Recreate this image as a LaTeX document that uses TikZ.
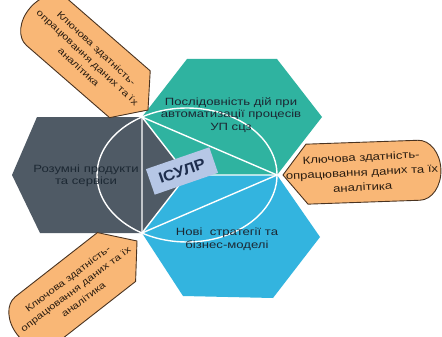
\documentclass[tikz,border=0pt]{standalone}
\usepackage{fontspec}
\setmainfont{Liberation Sans}
\newfontfamily\hexfont[FakeStretch=1.25]{Liberation Sans}
\newfontfamily\labfont[FakeStretch=1.1]{Liberation Sans}
\definecolor{teal1}{HTML}{2FB3A0}
\definecolor{blue1}{HTML}{33B4DF}
\definecolor{grey1}{HTML}{4F5A65}
\definecolor{orng}{HTML}{F9B776}
\definecolor{brn}{HTML}{4A3320}
\definecolor{lab}{HTML}{B6C7E6}
\definecolor{labtxt}{HTML}{1E2E4E}
\definecolor{hextxt}{HTML}{1C2833}
\definecolor{caltxt}{HTML}{2B1D10}
\tikzset{
  wline/.style={draw=white, line width=1.4pt},
  hextext/.style={font=\hexfont\fontsize{10.5}{12.5}\selectfont, align=center, text=hextxt, inner sep=0pt},
  caltext/.style={font=\hexfont\fontsize{10.5}{15}\selectfont, align=center, text=caltxt, inner sep=0pt},
  caltextsm/.style={font=\hexfont\fontsize{9.3}{13}\selectfont, align=center, text=caltxt, inner sep=0pt},
  callout/.style={fill=orng, draw=brn, line width=0.9pt, line join=miter},
}
\begin{document}
\begin{tikzpicture}[x=1pt,y=-1pt]
\useasboundingbox (0,0) rectangle (442,337);
\fill[white] (0,0) rectangle (442,337);
\coordinate (A) at (142,117);
\coordinate (B) at (142,233);
\coordinate (C) at (277,175);
\coordinate (P) at (187,175);
% hexagons
\fill[teal1] (A) -- (187,59) -- (277,59) -- (322,117) -- (C) -- (P) -- cycle;
\fill[blue1] (B) -- (P) -- (C) -- (320,237) -- (273,298) -- (183,296) -- cycle;
\fill[grey1] (P) -- (A) -- (37,117) -- (12,175) -- (40,233) -- (B) -- cycle;
% white lines
\draw[wline] (A) -- (B) -- (C) -- cycle;
\draw[wline] (P) -- (A) (P) -- (B) (P) -- (C);
\draw[wline] (P) ellipse [x radius=90pt, y radius=67pt];
% texts
\node[hextext] (t1) at (231,115) {Послідовність дій при\\автоматизації процесів\\УП сцз};
\node[hextext] (t2) at (227,239) {Нові\ \ стратегії та\\бізнес-моделі};
\node[hextext] (t3) at (86,176) {Розумні продукти\\та сервіси};
\node[fill=lab, rotate=19, font=\labfont\bfseries\fontsize{15}{17}\selectfont, text=labtxt, minimum width=67pt, minimum height=27pt, inner sep=0pt] (lbl) at (182,171) {ІСУЛР};
% callouts
\begin{scope}[shift={(283,175)}, rotate=2, x=1pt, y=1pt]
\draw[callout] (0,0) -- (24,30) -- (136,30) arc[start angle=90, end angle=-90, x radius=22pt, y radius=30pt] -- (24,-30) -- cycle;
\node[caltext, rotate=3] (c1) at (79,0) {Ключова здатність-\\опрацювання даних та їх\\аналітика};
\end{scope}
\begin{scope}[shift={(148,110)}, rotate=139, x=1pt, y=1pt]
\draw[callout] (0,0) -- (24,31) -- (134,31) arc[start angle=90, end angle=-90, x radius=22pt, y radius=31pt] -- (24,-31) -- cycle;
\node[caltextsm, rotate=-43] (c2) at (80,0) {Ключова здатність-\\опрацювання даних та їх\\аналітика};
\end{scope}
\begin{scope}[shift={(137,241)}, rotate=218, x=1pt, y=1pt]
\draw[callout] (0,0) -- (26,31) -- (130,31) arc[start angle=90, end angle=-90, x radius=22pt, y radius=31pt] -- (26,-31) -- cycle;
\node[caltextsm, rotate=37] (c3) at (78,0) {Ключова здатність-\\опрацювання даних та їх\\аналітика};
\end{scope}
\end{tikzpicture}
\end{document}
